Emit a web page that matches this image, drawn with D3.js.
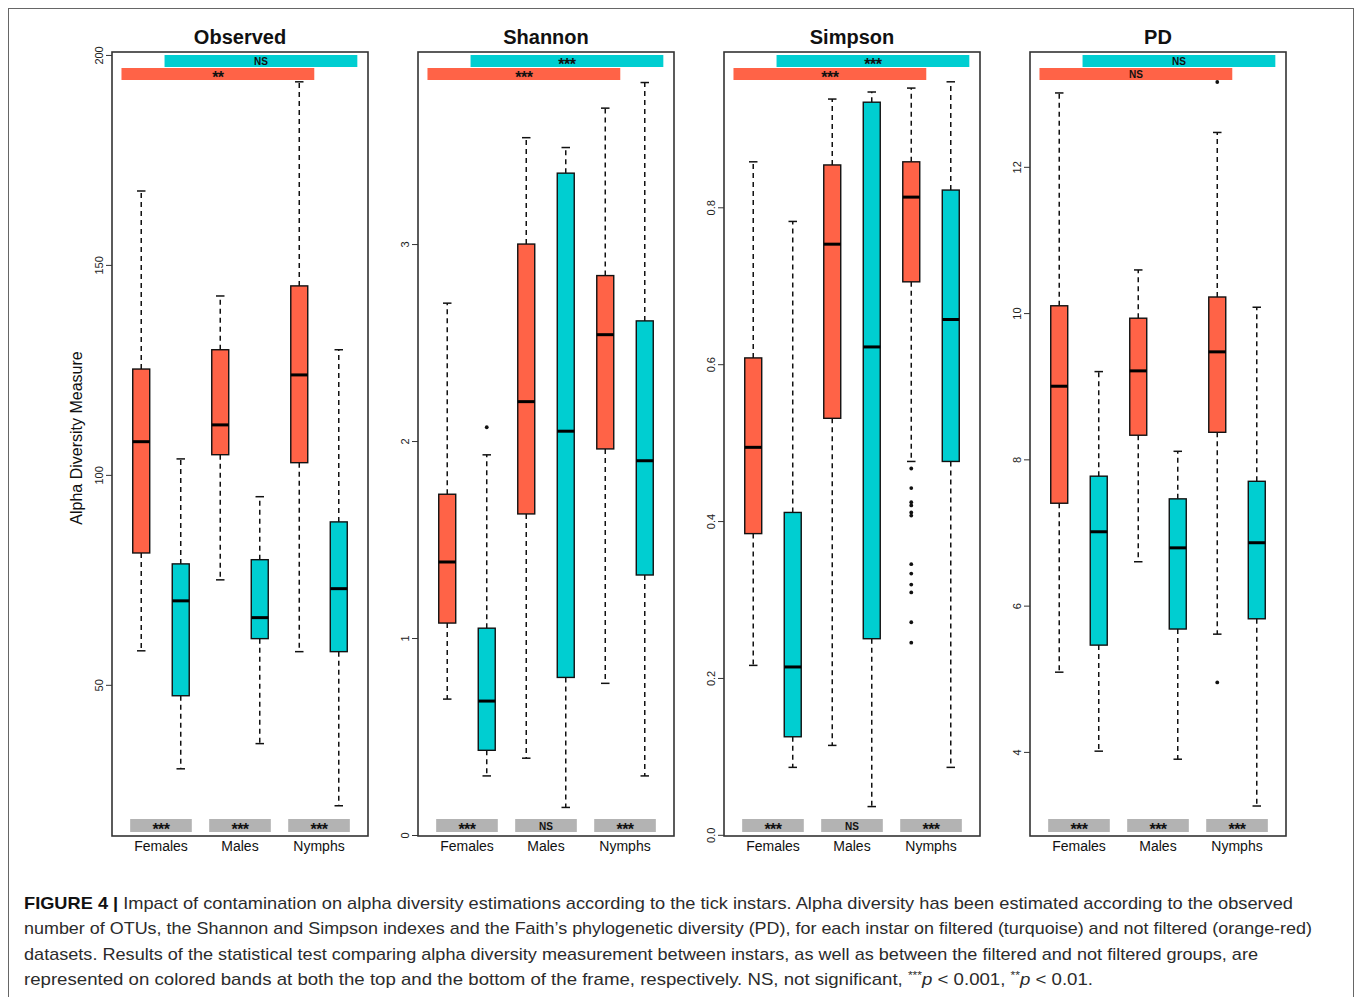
<!DOCTYPE html>
<html>
<head>
<meta charset="utf-8">
<script src="https://cdn.jsdelivr.net/npm/d3@7"></script>
<style>
body { margin: 0; background: #fff; }
svg { display: block; font-family: "Liberation Sans", Arial, Helvetica, sans-serif; }
</style>
</head>
<body>
<div id="chart"></div>
<script>
var panels = ["Observed", "Shannon", "Simpson", "PD"];
var instars = ["Females", "Males", "Nymphs"];
var boxColors = ["#FF6347", "#00CED1", "#FF6347", "#00CED1", "#FF6347", "#00CED1"];

// [lower whisker, q1, median, q3, upper whisker] per box
var observedStats = [
    [58.1, 81.4, 107.9, 125.2, 167.6],
    [30.0, 47.4, 70.0, 78.8, 103.8],
    [75.0, 104.8, 111.9, 129.8, 142.6],
    [36.0, 61.0, 66.0, 79.8, 94.8],
    [57.9, 102.9, 123.8, 145.0, 193.6],
    [21.2, 57.9, 72.9, 88.8, 129.8]
];
var shannonStats = [
    [0.69, 1.076, 1.386, 1.73, 2.70],
    [0.30, 0.43, 0.68, 1.05, 1.93],
    [0.39, 1.63, 2.20, 3.00, 3.54],
    [0.14, 0.80, 2.05, 3.36, 3.49],
    [0.77, 1.96, 2.54, 2.84, 3.69],
    [0.30, 1.32, 1.90, 2.61, 3.82]
];
var simpsonStats = [
    [0.216, 0.384, 0.494, 0.608, 0.858],
    [0.086, 0.125, 0.214, 0.411, 0.782],
    [0.114, 0.531, 0.753, 0.854, 0.938],
    [0.036, 0.250, 0.622, 0.934, 0.947],
    [0.476, 0.705, 0.813, 0.858, 0.952],
    [0.086, 0.476, 0.657, 0.822, 0.960]
];
var pdStats = [
    [5.09, 7.40, 9.00, 10.10, 13.01],
    [4.01, 5.46, 7.01, 7.77, 9.20],
    [6.60, 8.33, 9.21, 9.93, 10.59],
    [3.90, 5.68, 6.79, 7.46, 8.11],
    [5.61, 8.37, 9.47, 10.22, 12.47],
    [3.26, 5.82, 6.86, 7.70, 10.08]
];

var observedOutliers = [[], [], [], [], [], []];
var shannonOutliers = [[], [2.07], [], [], [], []];
var simpsonOutliers = [[], [], [], [],
    [0.467, 0.442, 0.424, 0.420, 0.411, 0.407, 0.345, 0.333, 0.319, 0.309, 0.271, 0.245], []];
var pdOutliers = [[], [], [], [], [13.16, 4.95], []];

var observedDomain = [14, 200.7];
var shannonDomain = [-0.005, 3.975];
var simpsonDomain = [-0.0015, 0.998];
var pdDomain = [2.85, 13.57];

var observedTicks = [50, 100, 150, 200];
var shannonTicks = [0, 1, 2, 3];
var simpsonTicks = [0, 0.2, 0.4, 0.6, 0.8];
var pdTicks = [4, 6, 8, 10, 12];

// top bands: [not filtered (orange), filtered (turquoise)]
var topSignif = [["**", "NS"], ["***", "***"], ["***", "***"], ["NS", "NS"]];
// bottom bands: filtered vs not filtered for each instar
var bottomSignif = [
    ["***", "***", "***"],
    ["***", "NS", "***"],
    ["***", "NS", "***"],
    ["***", "***", "***"]
];

var panelData = [
    {stats: observedStats, out: observedOutliers, domain: observedDomain, ticks: observedTicks, fmt: d3.format("d")},
    {stats: shannonStats, out: shannonOutliers, domain: shannonDomain, ticks: shannonTicks, fmt: d3.format("d")},
    {stats: simpsonStats, out: simpsonOutliers, domain: simpsonDomain, ticks: simpsonTicks, fmt: d3.format(".1f")},
    {stats: pdStats, out: pdOutliers, domain: pdDomain, ticks: pdTicks, fmt: d3.format("d")}
];

var W = 1360, H = 997;
var panelLeft = 112, panelStep = 306, panelW = 256;
var plotTop = 52, plotBottom = 836;

var svg = d3.select("#chart").append("svg")
    .attr("width", W)
    .attr("height", H);

// outer figure frame
svg.append("rect")
    .attr("x", 8.5).attr("y", 8.5)
    .attr("width", 1345).attr("height", 1000)
    .attr("fill", "none")
    .attr("stroke", "#666")
    .attr("stroke-width", 1);

// y axis title
svg.append("text")
    .attr("transform", "translate(82," + ((plotTop + plotBottom) / 2 - 6) + ") rotate(-90)")
    .style("text-anchor", "middle")
    .style("font-size", "16px")
    .attr("fill", "#111")
    .text("Alpha Diversity Measure");

// significance label inside a band of height 12 or 13 starting at top
function signifText(g, cx, top, label) {
    var stars = label !== "NS";
    g.append("text")
        .attr("x", cx)
        .attr("y", top + (stars ? 15 : 10))
        .style("text-anchor", "middle")
        .style("font-size", stars ? "16px" : "10px")
        .style("font-weight", "bold")
        .style("letter-spacing", stars ? "-0.5px" : "0")
        .attr("fill", "#111")
        .text(label);
}

panelData.forEach(function(p, i) {
    var g = svg.append("g")
        .attr("transform", "translate(" + (panelLeft + i * panelStep) + ",0)");

    var x = d3.scaleLinear().domain([0.26, 6.74]).range([0, panelW]);
    var y = d3.scaleLinear().domain(p.domain).range([plotBottom, plotTop]);
    var boxW = x(0.43) - x(0);

    // title
    g.append("text")
        .attr("x", panelW / 2)
        .attr("y", 44)
        .style("text-anchor", "middle")
        .style("font-size", "20px")
        .style("font-weight", "bold")
        .attr("fill", "#111")
        .text(panels[i]);

    // y axis
    var ax = g.append("g")
        .call(d3.axisLeft(y).tickValues(p.ticks).tickFormat(p.fmt).tickSize(6));
    ax.select(".domain").remove();
    ax.selectAll("line").attr("stroke", "#333");
    ax.selectAll("text")
        .attr("transform", "rotate(-90)")
        .attr("x", 0).attr("y", -9).attr("dy", 0)
        .style("text-anchor", "middle")
        .style("font-size", "11px")
        .style("font-family", "Liberation Sans, Arial, sans-serif")
        .attr("fill", "#222");

    // top significance bands
    var bandSpans = [[0.5, 5.38], [1.59, 6.47]];
    var bandY = [plotTop + 16, plotTop + 3];
    [1, 0].forEach(function(k) {
        g.append("rect")
            .attr("x", x(bandSpans[k][0]))
            .attr("y", bandY[k])
            .attr("width", x(bandSpans[k][1]) - x(bandSpans[k][0]))
            .attr("height", 12)
            .attr("fill", k === 0 ? "#FF6347" : "#00CED1");
        signifText(g, x((bandSpans[k][0] + bandSpans[k][1]) / 2), bandY[k], topSignif[i][k]);
    });

    // bottom significance bands
    instars.forEach(function(name, j) {
        var c = 1.5 + j * 2;
        g.append("rect")
            .attr("x", x(c - 0.78))
            .attr("y", plotBottom - 17)
            .attr("width", x(c + 0.78) - x(c - 0.78))
            .attr("height", 13)
            .attr("fill", "#B3B3B3");
        signifText(g, x(c), plotBottom - 16.5, bottomSignif[i][j]);
        g.append("text")
            .attr("x", x(c))
            .attr("y", plotBottom + 15)
            .style("text-anchor", "middle")
            .style("font-size", "14px")
            .attr("fill", "#111")
            .text(name);
    });

    // boxes
    var boxes = g.selectAll(".box").data(p.stats).enter().append("g")
        .attr("class", "box");

    boxes.append("line") // upper whisker
        .attr("x1", (d, k) => x(k + 1)).attr("x2", (d, k) => x(k + 1))
        .attr("y1", d => y(d[3])).attr("y2", d => y(d[4]))
        .attr("stroke", "#111").attr("stroke-width", 1.5)
        .attr("stroke-dasharray", "5,4");
    boxes.append("line") // lower whisker
        .attr("x1", (d, k) => x(k + 1)).attr("x2", (d, k) => x(k + 1))
        .attr("y1", d => y(d[1])).attr("y2", d => y(d[0]))
        .attr("stroke", "#111").attr("stroke-width", 1.5)
        .attr("stroke-dasharray", "5,4");
    [0, 4].forEach(function(s) {
        boxes.append("line") // staples
            .attr("x1", (d, k) => x(k + 1) - boxW / 4).attr("x2", (d, k) => x(k + 1) + boxW / 4)
            .attr("y1", d => y(d[s])).attr("y2", d => y(d[s]))
            .attr("stroke", "#111").attr("stroke-width", 1.5);
    });
    boxes.append("rect")
        .attr("x", (d, k) => x(k + 1) - boxW / 2)
        .attr("y", d => y(d[3]))
        .attr("width", boxW)
        .attr("height", d => y(d[1]) - y(d[3]))
        .attr("fill", (d, k) => boxColors[k])
        .attr("stroke", "#111").attr("stroke-width", 1.4);
    boxes.append("line") // median
        .attr("x1", (d, k) => x(k + 1) - boxW / 2).attr("x2", (d, k) => x(k + 1) + boxW / 2)
        .attr("y1", d => y(d[2])).attr("y2", d => y(d[2]))
        .attr("stroke", "#000").attr("stroke-width", 3);

    // outliers
    p.out.forEach(function(vals, k) {
        g.selectAll(null).data(vals).enter().append("circle")
            .attr("cx", x(k + 1))
            .attr("cy", d => y(d))
            .attr("r", 1.9)
            .attr("fill", "#111");
    });

    // plot frame
    g.append("rect")
        .attr("x", 0).attr("y", plotTop)
        .attr("width", panelW).attr("height", plotBottom - plotTop)
        .attr("fill", "none")
        .attr("stroke", "#333")
        .attr("stroke-width", 1.6);
});

// caption
var capX = 24;
var capLines = [
    {y: 909, len: 1269, parts: [["FIGURE 4 | ", "b"], ["Impact of contamination on alpha diversity estimations according to the tick instars. Alpha diversity has been estimated according to the observed", ""]]},
    {y: 934, len: 1288, parts: [["number of OTUs, the Shannon and Simpson indexes and the Faith\u2019s phylogenetic diversity (PD), for each instar on filtered (turquoise) and not filtered (orange-red)", ""]]},
    {y: 960, len: 1234, parts: [["datasets. Results of the statistical test comparing alpha diversity measurement between instars, as well as between the filtered and not filtered groups, are", ""]]},
    {y: 985, len: 1069, parts: [["represented on colored bands at both the top and the bottom of the frame, respectively. NS, not significant, ", ""], ["***", "sup"], ["p", "i2"], [" < 0.001, ", ""], ["**", "sup"], ["p", "i2"], [" < 0.01.", ""]]}
];
capLines.forEach(function(line) {
    var t = svg.append("text")
        .attr("x", capX)
        .attr("y", line.y)
        .attr("textLength", line.len)
        .attr("lengthAdjust", "spacingAndGlyphs")
        .style("font-size", "17px")
        .attr("fill", "#2b2b2b");
    line.parts.forEach(function(part) {
        var ts = t.append("tspan").text(part[0]);
        if (part[1] === "b") ts.style("font-weight", "bold").attr("fill", "#111");
        if (part[1] === "sup") ts.style("font-size", "11px").attr("dy", -6);
        if (part[1] === "i2") ts.style("font-style", "italic").attr("dy", 6);
    });
});
</script>
</body>
</html>
